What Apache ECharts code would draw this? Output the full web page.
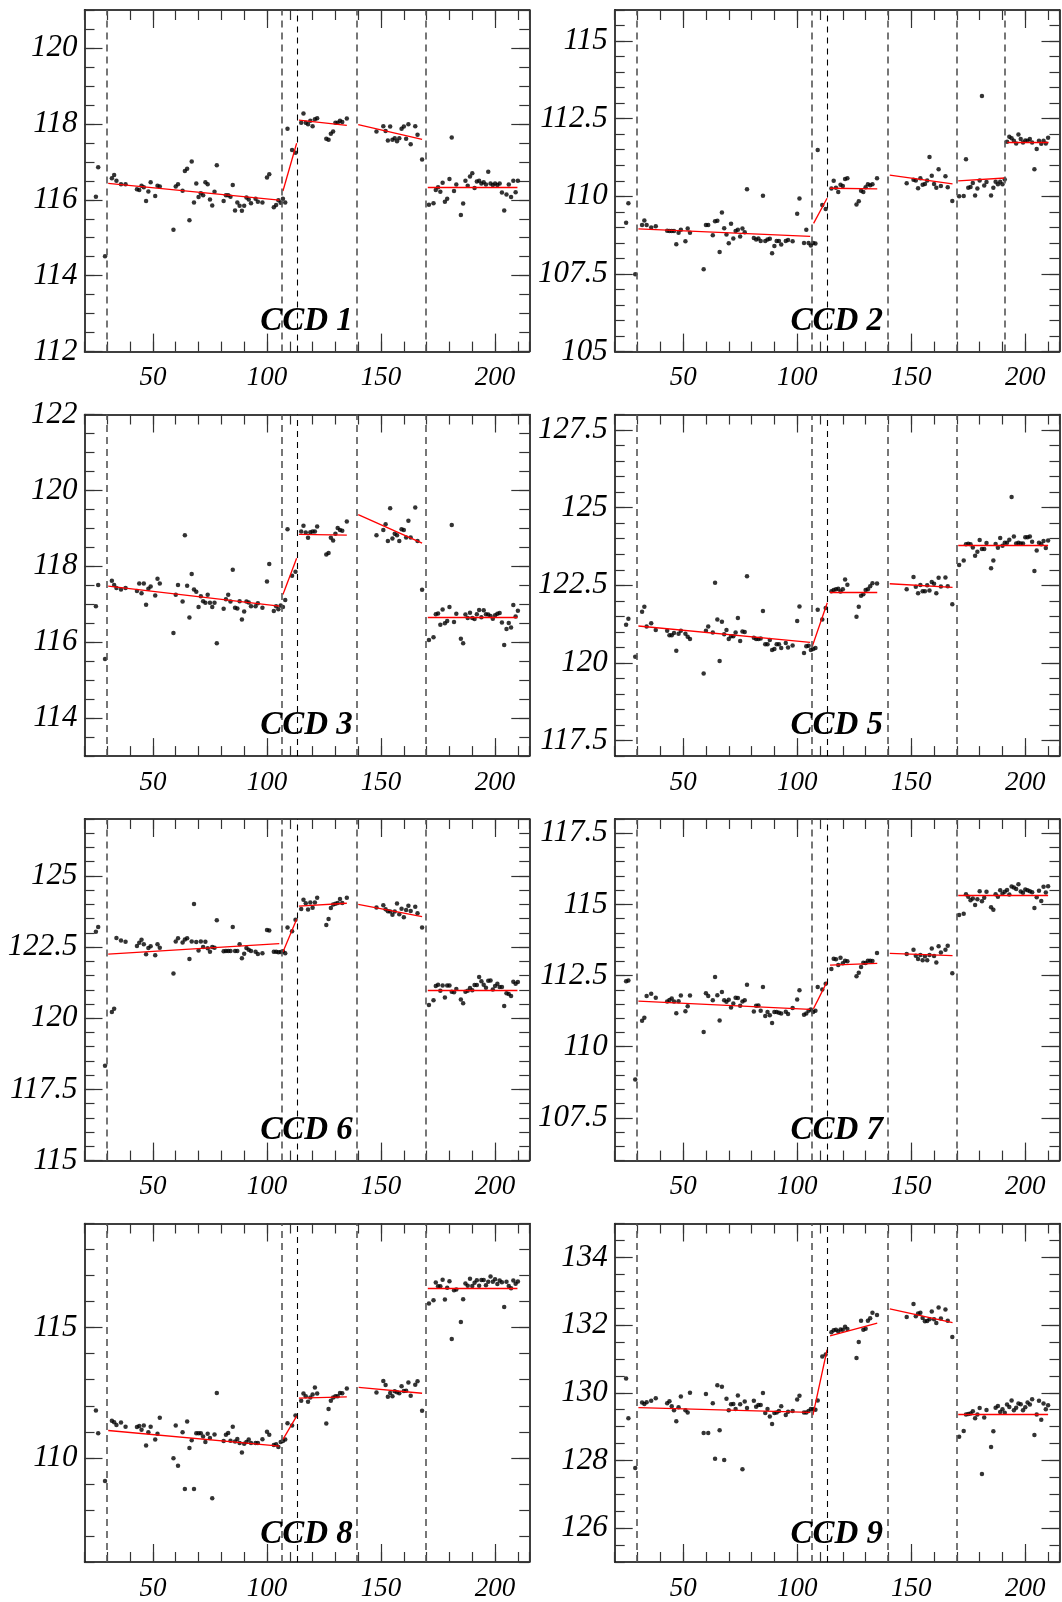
<!DOCTYPE html>
<html><head><meta charset="utf-8">
<script src="https://cdn.jsdelivr.net/npm/echarts@6/dist/echarts.min.js"></script>
<style>html,body{margin:0;padding:0;background:#fff}#c{width:1062px;height:1602px}</style>
</head><body><div id="c"></div>
<script>
const days = [25,26,29,32,33,34,36,38,43,44,45,46,47,48,49,51,52,53,59,60,61,63,64,65,66,67,68,69,70,71,72,73,74,75,76,77,78,81,82,83,84,85,86,87,88,89,90,91,92,93,95,96,98,100,101,103,104,105,106,107,108,109,111,112.5,115,116,117,118,119,120,121,122,126,127,128,129,130,131,132,133,135,148,151,152,153,154,155,156,157,158,159,160,161,162,163,165,166,168,171,173,174,175,176,177,178,179,180,181,182,183,185,186,187,188,189,190,191,192,193,194,195,196,197,198,199,200,201,202,203,204,205,206,207,208,209,210];

const ccd1 = [116.08,116.86,114.51,
116.57,116.65,116.50,116.41,116.41,116.28,116.26,116.37,116.33,115.97,116.22,116.46,116.10,116.37,116.35,115.21,116.35,116.41,116.24,116.76,116.82,115.46,117.01,115.93,116.43,116.07,116.17,116.12,116.46,116.41,116.01,115.85,116.21,116.91,115.97,116.12,116.12,116.08,116.39,115.72,115.93,115.84,115.71,115.84,116.06,116.01,115.91,116.03,115.95,115.93,116.59,116.67,115.80,115.86,115.99,115.92,
116.03,115.93,117.87,117.31,117.24,
118.03,118.27,118.03,117.99,118.08,117.94,118.12,118.15,117.61,117.58,117.74,117.80,118.03,118.03,118.08,118.05,118.14,
117.80,117.94,117.81,117.56,117.93,117.58,117.62,117.54,117.62,117.87,117.93,117.61,117.99,117.46,117.94,117.71,117.06,
115.87,115.91,116.26,116.33,116.21,116.45,115.95,116.03,116.55,117.64,116.23,116.40,115.60,115.90,116.50,116.37,116.61,116.70,116.31,116.48,116.50,116.43,116.46,116.40,116.74,116.43,116.39,116.43,116.39,116.43,116.19,115.72,116.14,116.40,116.07,116.50,116.20,116.50];

const ccd2 = [109.15,109.78,107.49,
109.08,109.22,109.08,109.00,109.04,108.89,108.88,108.88,108.88,108.46,108.83,108.92,108.55,108.96,108.83,107.65,109.08,109.08,108.75,109.20,109.21,108.21,109.48,108.97,108.77,108.49,109.12,108.64,108.88,108.92,108.71,108.96,108.84,110.23,108.66,108.61,108.64,108.56,110.02,108.56,108.61,108.63,108.17,108.40,108.56,108.56,108.45,108.56,108.59,108.55,109.44,109.93,108.50,108.92,108.50,108.42,
108.50,108.48,111.49,109.72,109.59,
110.25,110.50,110.28,110.14,110.37,110.33,110.56,110.58,109.74,109.84,110.18,110.14,110.29,110.39,110.36,110.39,110.58,
110.42,110.53,110.51,110.26,110.58,110.37,110.40,110.51,111.27,110.66,110.40,110.28,110.87,110.33,110.65,110.29,109.85,
110.00,110.01,111.19,110.28,110.30,110.43,110.03,110.25,110.51,113.23,110.35,110.46,110.03,110.28,110.47,110.39,110.47,110.39,110.54,111.76,111.92,111.87,111.79,111.70,111.99,111.85,111.73,111.80,111.79,111.85,111.73,110.87,111.52,111.79,111.69,111.79,111.70,111.89];

const ccd3 = [116.95,117.51,115.56,
117.62,117.51,117.43,117.39,117.43,117.35,117.55,117.29,117.55,116.99,117.41,117.47,117.23,117.67,117.55,116.24,117.25,117.51,117.07,118.82,117.49,116.65,117.80,117.39,117.33,116.93,117.21,117.08,117.04,117.25,117.04,116.93,117.04,115.97,116.88,117.13,117.25,117.07,117.91,116.91,116.89,117.08,116.60,116.81,117.07,117.05,116.95,116.95,117.03,116.91,117.60,118.06,116.82,116.95,116.87,116.97,
116.93,117.11,118.98,117.75,117.86,
118.92,119.07,118.89,118.75,118.90,118.92,118.92,119.05,118.31,118.35,118.75,118.68,118.86,119.01,118.96,118.94,119.18,
118.82,118.96,119.11,118.67,119.53,118.73,118.86,118.82,118.67,118.98,118.96,118.76,119.20,118.76,119.55,118.67,117.38,
116.06,116.13,116.74,116.76,116.46,116.86,116.50,116.56,116.93,119.09,116.53,116.75,116.09,115.97,116.73,116.64,116.78,116.64,116.61,116.74,116.85,116.66,116.84,116.74,116.73,116.69,116.62,116.71,116.75,116.77,116.52,115.93,116.35,116.51,116.39,116.98,116.68,116.83];

const ccd5 = [121.23,121.42,120.20,
121.65,121.81,121.17,121.28,121.06,121.04,120.89,120.89,120.96,120.39,120.94,121.04,120.94,120.84,120.77,119.66,121.04,121.17,120.98,122.58,121.40,120.06,121.33,120.92,121.06,120.77,120.86,120.86,120.98,121.45,120.71,121.01,121.00,122.79,120.81,120.77,120.77,120.79,121.67,120.60,120.60,120.74,120.42,120.45,120.60,120.60,120.48,120.64,120.50,120.56,121.35,121.82,120.32,120.54,120.55,120.42,
120.45,120.48,121.71,121.40,121.77,
122.31,122.35,122.37,122.39,122.30,122.37,122.69,122.52,121.49,121.81,122.16,122.21,122.35,122.37,122.47,122.57,122.56,
122.37,122.77,122.45,122.24,122.51,122.31,122.31,122.50,122.33,122.61,122.55,122.24,122.74,122.46,122.75,122.47,121.89,
123.15,123.30,123.82,123.84,123.82,123.72,123.45,123.58,123.96,123.67,123.67,123.86,123.05,123.30,123.83,123.71,124.02,123.77,123.87,123.87,123.97,125.34,124.07,123.85,123.87,123.85,123.85,124.05,124.05,124.07,123.90,122.96,123.62,123.87,123.82,123.93,123.70,123.94];

const ccd6 = [123.04,123.21,118.33,
120.22,120.33,122.82,122.73,122.69,122.54,122.65,122.76,122.60,122.25,122.47,122.53,122.21,122.60,122.48,121.57,122.70,122.81,122.66,122.77,122.81,122.08,122.70,124.01,122.68,122.38,122.70,122.50,122.69,122.46,122.34,122.50,122.48,123.44,122.35,122.36,122.36,122.36,123.21,122.36,122.36,122.60,122.11,122.27,122.47,122.41,122.36,122.34,122.26,122.28,123.10,123.08,122.34,122.34,122.32,122.33,
122.35,122.28,123.19,123.06,123.46,
123.84,124.16,124.04,123.82,124.07,123.88,124.07,124.23,123.28,123.49,123.87,124.00,124.02,124.05,124.19,124.05,124.23,
123.89,123.97,123.83,123.76,123.75,123.64,123.75,124.03,123.65,123.85,123.55,123.80,123.95,123.77,123.92,123.69,123.19,
120.47,120.63,121.13,121.18,120.97,121.15,120.73,121.15,121.15,120.93,120.91,121.03,120.66,120.53,120.93,120.97,121.06,120.98,121.17,121.17,121.45,121.30,121.18,121.07,121.32,121.33,121.01,121.13,121.21,121.10,121.10,120.43,120.88,120.85,120.78,121.28,121.21,121.27];

const ccd7 = [112.30,112.33,108.85,
110.91,111.02,111.78,111.86,111.72,111.59,111.64,111.69,111.59,111.18,111.60,111.80,111.25,111.42,111.80,110.52,111.88,111.78,111.63,112.45,111.81,110.92,111.92,111.63,111.58,111.65,111.38,111.52,111.72,111.71,111.44,111.59,111.63,112.18,111.24,111.44,111.45,111.26,112.10,111.08,111.22,111.11,110.83,111.22,111.22,111.19,111.17,111.23,111.15,111.36,111.66,111.98,111.12,111.17,111.26,111.31,
111.22,111.26,112.10,112.01,112.21,
112.73,113.09,113.07,112.87,113.13,112.93,113.02,113.00,112.48,112.60,112.80,112.95,112.94,113.02,113.02,113.01,113.29,
113.26,113.41,113.20,113.08,113.22,113.04,113.18,113.04,113.22,113.45,113.19,112.96,113.53,113.31,113.41,113.55,112.58,
114.63,114.67,115.36,115.27,115.15,115.21,114.98,115.18,115.46,115.11,115.23,115.44,114.90,114.81,115.36,115.27,115.50,115.37,115.44,115.51,115.35,115.63,115.59,115.54,115.71,115.45,115.41,115.52,115.50,115.46,115.43,114.87,115.25,115.48,115.12,115.62,115.42,115.64];

const ccd8 = [111.82,110.94,109.11,
111.42,111.37,111.26,111.36,111.19,111.18,111.22,111.08,111.24,110.47,110.98,111.19,110.70,110.93,111.54,109.98,111.24,109.70,110.98,108.80,111.40,110.38,110.68,108.80,110.94,110.94,110.94,110.82,110.61,110.93,110.76,108.45,110.90,112.49,110.65,110.89,110.95,110.66,111.19,110.63,110.72,110.57,110.21,110.54,110.61,110.70,110.57,110.57,110.57,110.71,111.00,110.89,110.49,110.52,110.42,110.61,
110.65,110.70,111.33,111.24,111.63,
112.19,112.47,112.37,112.15,112.32,112.43,112.70,112.47,111.32,111.88,112.19,112.32,112.37,112.37,112.49,112.48,112.66,
112.51,112.95,112.80,112.35,112.49,112.37,112.56,112.52,112.48,112.75,112.57,112.58,112.89,112.38,112.81,112.94,111.81,
115.93,116.05,116.73,116.59,116.59,116.84,116.08,116.53,116.78,114.56,116.44,116.47,115.22,116.09,116.70,116.61,116.88,116.60,116.72,116.82,116.61,116.83,116.83,116.63,116.76,116.96,116.76,116.86,116.68,116.81,116.74,115.79,116.76,116.60,116.51,116.81,116.69,116.77];

const ccd9 = [130.42,129.25,127.78,
129.71,129.67,129.72,129.76,129.84,129.69,129.75,129.60,129.48,129.16,129.57,129.89,129.48,129.42,130.00,128.81,129.96,128.81,129.69,128.05,130.22,128.89,130.18,128.01,129.82,129.48,129.66,129.67,129.52,129.92,129.66,127.74,129.74,129.55,129.76,129.59,129.64,129.64,129.99,129.40,129.52,129.30,129.08,129.40,129.42,129.46,129.60,129.34,129.44,129.46,129.80,129.91,129.42,129.42,129.46,129.52,
129.52,129.50,129.77,131.07,131.13,
131.79,131.85,131.86,131.81,131.87,131.86,131.95,131.88,131.03,131.50,132.13,131.86,131.89,132.13,132.20,132.36,132.30,
132.24,132.62,132.26,132.34,132.36,132.21,132.11,132.12,132.17,132.40,132.17,132.06,132.52,132.19,132.46,132.13,131.65,
128.70,128.87,129.36,129.37,129.39,129.45,129.25,129.36,129.55,127.60,129.27,129.49,128.40,128.86,129.56,129.61,129.43,129.51,129.41,129.65,129.58,129.77,129.48,129.56,129.68,129.66,129.48,129.57,129.71,129.65,129.81,128.75,129.36,129.76,129.20,129.68,129.51,129.63];

// fitted segments: [x0, y0, x1, y1]
const fit1 = [[30.4,116.43,105.4,115.99],[107.0,116.23,113.0,117.49],[114.0,118.10,135,117.96],[140.0,117.98,168.0,117.59],[170.5,116.33,209.8,116.33]];
const fit2 = [[30.4,108.95,105.7,108.71],[107.2,109.13,113.1,109.94],[114.4,110.26,135.1,110.24],[140.6,110.68,168.1,110.40],[170.6,110.50,191.2,110.59],[192.1,111.74,210.2,111.74]];
const fit3 = [[30.4,117.48,105.4,116.95],[107.0,117.26,113.0,118.21],[114.0,118.84,135,118.82],[140.0,119.36,168.0,118.61],[170.5,116.67,209.8,116.67]];
const fit5 = [[30.4,121.19,105.7,120.66],[106.6,120.53,113.2,121.94],[114.4,122.27,135.1,122.27],[140.6,122.55,168.1,122.43],[170.6,123.79,210,123.79]];
const fit6 = [[30.4,122.25,105.4,122.62],[107.0,122.33,113.0,123.48],[114.0,123.94,135,124.04],[140.0,124.00,168.0,123.57],[170.5,121.0,209.8,121.0]];
const fit7 = [[30.4,111.60,105.7,111.31],[107.1,111.33,113.1,112.28],[114.4,112.87,135.1,112.93],[140.6,113.28,168.1,113.20],[170.6,115.31,210,115.31]];
const fit8 = [[30.4,111.05,105.4,110.45],[107.0,110.71,113.0,111.60],[114.0,112.29,135,112.34],[140.2,112.71,168.0,112.48],[170.5,116.53,209.8,116.53]];
const fit9 = [[30.4,129.56,105.7,129.42],[106.9,129.34,113.1,131.27],[114.4,131.68,135.1,132.06],[140.6,132.48,168.1,132.07],[170.6,129.37,210,129.37]];

const breaksStd = [29.6,106.5,113.1,139.5,169.8];
const breaksCcd2 = [29.6,106.5,113.1,139.5,169.8,191.2];

const xMajorTicks = [50,100,150,200];
const xRange = [20,215];
const yTicks1 = [112,114,116,118,120];
const yTicks2 = [105,107.5,110,112.5,115];
const yTicks3 = [114,116,118,120,122];
const yTicks5 = [117.5,120,122.5,125,127.5];
const yTicks6 = [115,117.5,120,122.5,125];
const yTicks7 = [107.5,110,112.5,115,117.5];
const yTicks8 = [110,115];
const yTicks9 = [126,128,130,132,134];

const panels = [
  {name:'CCD 1', y:ccd1, fit:fit1, br:breaksStd, min:112, max:121, ticks:yTicks1, minor:0.5},
  {name:'CCD 2', y:ccd2, fit:fit2, br:breaksCcd2, min:105, max:116, ticks:yTicks2, minor:0.5},
  {name:'CCD 3', y:ccd3, fit:fit3, br:breaksStd, min:113, max:122, ticks:yTicks3, minor:0.5},
  {name:'CCD 5', y:ccd5, fit:fit5, br:breaksStd, min:117, max:128, ticks:yTicks5, minor:0.5},
  {name:'CCD 6', y:ccd6, fit:fit6, br:breaksStd, min:115, max:127, ticks:yTicks6, minor:0.5},
  {name:'CCD 7', y:ccd7, fit:fit7, br:breaksStd, min:106, max:118, ticks:yTicks7, minor:0.5},
  {name:'CCD 8', y:ccd8, fit:fit8, br:breaksStd, min:106, max:119, ticks:yTicks8, minor:1},
  {name:'CCD 9', y:ccd9, fit:fit9, br:breaksStd, min:125, max:135, ticks:yTicks9, minor:0.5}
];

const colLeft = [84.5, 614.7];
const rowTop = [10, 414.5, 819, 1223.5];
const gW = 444.8, gH = 341.6;
const FONT = '"Liberation Serif","Times New Roman",serif';

const grid = [], xAxis = [], yAxis = [], series = [], graphic = [];
const lineSty = {color:'#000', width:1.5};
const tickSty = {color:'#333', width:1.2};

panels.forEach((p, g) => {
  const left = colLeft[g % 2], top = rowTop[Math.floor(g / 2)];
  grid.push({left:left, top:top, width:gW, height:gH, containLabel:false});
  const xb = xAxis.length;
  ['bottom','top'].forEach(pos => {
    xAxis.push({type:'value', gridIndex:g, position:pos, min:xRange[0], max:xRange[1], interval:10,
      axisLine:{show:true, onZero:false, lineStyle:lineSty},
      axisTick:{show:true, inside:true, length:10, lineStyle:tickSty},
      axisLabel:{show:false}, splitLine:{show:false}});
    xAxis.push({type:'value', gridIndex:g, position:pos, min:xRange[0], max:xRange[1],
      axisLine:{show:false, onZero:false},
      axisTick:{show:true, inside:true, length:18, customValues:xMajorTicks, lineStyle:tickSty},
      axisLabel:{show:pos === 'bottom', customValues:xMajorTicks, margin:13, fontFamily:FONT, fontStyle:'italic', fontSize:27, color:'#000'},
      splitLine:{show:false}});
  });
  const yb = yAxis.length;
  ['left','right'].forEach(pos => {
    yAxis.push({type:'value', gridIndex:g, position:pos, min:p.min, max:p.max, interval:p.minor,
      axisLine:{show:true, onZero:false, lineStyle:lineSty},
      axisTick:{show:true, inside:true, length:10, lineStyle:tickSty},
      axisLabel:{show:false}, splitLine:{show:false}});
    yAxis.push({type:'value', gridIndex:g, position:pos, min:p.min, max:p.max,
      axisLine:{show:false, onZero:false},
      axisTick:{show:true, inside:true, length:18, customValues:p.ticks, lineStyle:tickSty},
      axisLabel:{show:pos === 'left', customValues:p.ticks, margin:7, fontFamily:FONT, fontStyle:'italic', fontSize:31, color:'#000',
        formatter: v => String(v)},
      splitLine:{show:false}});
  });
  series.push({type:'scatter', xAxisIndex:xb, yAxisIndex:yb, symbol:'circle', symbolSize:4.5,
    itemStyle:{color:'#000'}, silent:true, z:3,
    data: days.map((d, i) => [d, p.y[i]]),
    markLine:{silent:true, symbol:['none','none'], label:{show:false}, animation:false,
      data: p.br.map(b => ({xAxis:b, lineStyle: b === 113.1
        ? {type:[6,5], color:'#000', width:1.1}
        : {type:[7,5], color:'#555', width:1.6}}))}
  });
  series.push({type:'lines', coordinateSystem:'cartesian2d', xAxisIndex:xb, yAxisIndex:yb, silent:true, z:4,
    lineStyle:{color:'#ff0000', width:1.3, opacity:1},
    data: p.fit.map(s => ({coords:[[s[0], s[1]], [s[2], s[3]]]}))});
  graphic.push({type:'text', x:left + 222, y:top + 311, z:100,
    style:{text:p.name, font:'italic bold 33px ' + FONT, fill:'#000',
      align:'center', verticalAlign:'middle', textAlign:'center', textVerticalAlign:'middle'}});
});

const chart = echarts.init(document.getElementById('c'), null, {renderer:'canvas'});
chart.setOption({animation:false, backgroundColor:'#fff', grid, xAxis, yAxis, series, graphic});
</script></body></html>
